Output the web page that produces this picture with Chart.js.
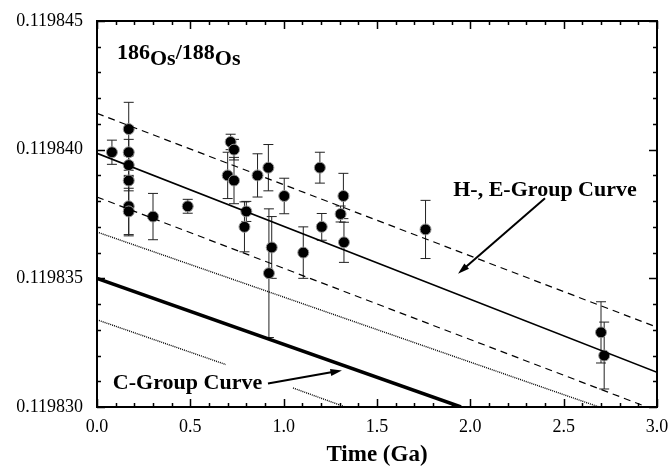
<!DOCTYPE html>
<html><head><meta charset="utf-8">
<script src="https://cdn.jsdelivr.net/npm/chart.js@4/dist/chart.umd.min.js"></script>
<style>html,body{margin:0;padding:0;background:#fff}#w{width:672px;height:469px}</style>
</head><body><div id="w"><canvas id="c"></canvas></div>
<script>
// Sample data: age (Ga), 186Os/188Os, 2-sigma error
const ages   = [0.08, 0.17, 0.17, 0.17, 0.17, 0.17, 0.17, 0.30, 0.486, 0.70, 0.716, 0.734, 0.734, 0.80, 0.79, 0.86, 0.918, 0.936, 0.921, 1.003, 1.105, 1.194, 1.204, 1.305, 1.32, 1.323, 1.76, 2.70, 2.717];
const ratios = [0.1198399, 0.1198408, 0.1198399, 0.1198394, 0.1198388, 0.1198378, 0.1198376, 0.1198374, 0.1198378, 0.1198390, 0.1198403, 0.1198400, 0.1198388, 0.1198376, 0.1198370, 0.1198390, 0.1198393, 0.1198362, 0.1198352, 0.1198382, 0.1198360, 0.1198393, 0.1198370, 0.1198375, 0.1198382, 0.1198364, 0.1198369, 0.1198329, 0.1198320];
const errors = [0.00000047, 0.00000104, 0.0000005, 0.0000004, 0.0000004, 0.00000115, 0.0000009, 0.0000009, 0.00000027, 0.0000009, 0.0000003, 0.0000004, 0.0000009, 0.00000039, 0.00000097, 0.00000084, 0.0000009, 0.0000012, 0.0000025, 0.00000069, 0.000001, 0.0000006, 0.00000052, 0.00000031, 0.00000088, 0.00000078, 0.00000113, 0.00000119, 0.0000013];

// Model curves (x in Ga, y ratio)
const heCurveX = [0, 3];           const heCurveY = [0.11983986, 0.11983135];
const heUpperX = [0, 3];           const heUpperY = [0.11984141, 0.11983310];
const heLowerX = [0, 3];           const heLowerY = [0.11983816, 0.11982985];
const cCurveX  = [0, 1.95];        const cCurveY  = [0.119835, 0.119830];
const cUpperX  = [0, 2.69];        const cUpperY  = [0.11983680, 0.119830];
const cLowerX  = [0, 0.69, null, 1.05, 1.33];
const cLowerY  = [0.11983339, 0.11983165, null, 0.11983074, 0.119830];

const xTicks = [0.0, 0.5, 1.0, 1.5, 2.0, 2.5, 3.0];
const yTicks = [0.119830, 0.119835, 0.119840, 0.119845];

const pts = (xs, ys) => xs.map((x, i) => x === null ? {x: null, y: null} : {x: x, y: ys[i]});
const FONT = '"Liberation Serif", "Times New Roman", serif';

const framePlugin = {
  id: 'frame',
  beforeDatasetDraw(chart, args) {
    if (args.index !== 6) return;
    const {ctx} = chart, xs = chart.scales.x, ys = chart.scales.y;
    ctx.save();
    ctx.strokeStyle = '#222'; ctx.lineWidth = 1;
    ages.forEach((a, i) => {
      const px = xs.getPixelForValue(a);
      const y1 = ys.getPixelForValue(ratios[i] + errors[i]);
      const y2 = ys.getPixelForValue(ratios[i] - errors[i]);
      ctx.beginPath();
      ctx.moveTo(px, y1); ctx.lineTo(px, y2);
      ctx.moveTo(px - 5, y1); ctx.lineTo(px + 5, y1);
      ctx.moveTo(px - 5, y2); ctx.lineTo(px + 5, y2);
      ctx.stroke();
    });
    ctx.restore();
  },
  afterDraw(chart) {
    const {ctx, chartArea: a} = chart, xs = chart.scales.x, ys = chart.scales.y;
    ctx.save();
    ctx.strokeStyle = '#000';
    ctx.lineWidth = 1.5;
    for (let k = 0; k <= 30; k++) {
      const v = k * 0.1, px = Math.round(xs.getPixelForValue(v)) + 0.5;
      const len = (k % 5 === 0) ? 8 : 4;
      ctx.beginPath();
      ctx.moveTo(px, a.bottom); ctx.lineTo(px, a.bottom - len);
      ctx.moveTo(px, a.top); ctx.lineTo(px, a.top + len);
      ctx.stroke();
    }
    for (let k = 0; k <= 15; k++) {
      const v = 0.119830 + k * 0.000001, py = Math.round(ys.getPixelForValue(v)) + 0.5;
      const len = (k % 5 === 0) ? 8 : 4;
      ctx.beginPath();
      ctx.moveTo(a.left, py); ctx.lineTo(a.left + len, py);
      ctx.moveTo(a.right, py); ctx.lineTo(a.right - len, py);
      ctx.stroke();
    }
    ctx.lineWidth = 2;
    ctx.strokeRect(a.left, a.top, a.right - a.left, a.bottom - a.top);

    // annotations
    ctx.fillStyle = '#000';
    ctx.textBaseline = 'alphabetic';
    const big = 'bold 22px ' + FONT, sub = 'bold 22px ' + FONT;
    let x0 = a.left + 20, yb = a.top + 38;
    ctx.font = big; ctx.fillText('186', x0, yb); x0 += ctx.measureText('186').width;
    ctx.font = sub; ctx.fillText('Os', x0, yb + 6); x0 += ctx.measureText('Os').width;
    ctx.font = big; ctx.fillText('/188', x0, yb); x0 += ctx.measureText('/188').width;
    ctx.font = sub; ctx.fillText('Os', x0, yb + 6);

    ctx.font = 'bold 22px ' + FONT;
    ctx.textAlign = 'center';
    ctx.fillText('H-, E-Group Curve', xs.getPixelForValue(2.40), ys.getPixelForValue(0.1198382));
    ctx.textAlign = 'left';
    ctx.fillText('C-Group Curve', xs.getPixelForValue(0.085), ys.getPixelForValue(0.1198307));

    const arrow = (xa, ya, xb, yb2) => {
      const p1x = xs.getPixelForValue(xa), p1y = ys.getPixelForValue(ya);
      const p2x = xs.getPixelForValue(xb), p2y = ys.getPixelForValue(yb2);
      const ang = Math.atan2(p2y - p1y, p2x - p1x);
      ctx.lineWidth = 2;
      ctx.beginPath(); ctx.moveTo(p1x, p1y);
      ctx.lineTo(p2x - 8 * Math.cos(ang), p2y - 8 * Math.sin(ang)); ctx.stroke();
      ctx.beginPath();
      ctx.moveTo(p2x, p2y);
      ctx.lineTo(p2x - 12 * Math.cos(ang - 0.3), p2y - 12 * Math.sin(ang - 0.3));
      ctx.lineTo(p2x - 12 * Math.cos(ang + 0.3), p2y - 12 * Math.sin(ang + 0.3));
      ctx.closePath(); ctx.fill();
    };
    arrow(2.40, 0.11983811, 1.934, 0.11983518);
    arrow(0.916, 0.11983091, 1.312, 0.11983142);
    ctx.restore();
  }
};

const lineDs = (data, width, dash) => ({
  type: 'line', data: data, borderColor: '#000', borderWidth: width, borderDash: dash,
  pointRadius: 0, fill: false, spanGaps: false, tension: 0
});

new Chart(document.getElementById('c'), {
  type: 'scatter',
  data: {
    datasets: [
      lineDs(pts(heCurveX, heCurveY), 1.6, []),
      lineDs(pts(heUpperX, heUpperY), 1.2, [7, 5]),
      lineDs(pts(heLowerX, heLowerY), 1.2, [7, 5]),
      lineDs(pts(cCurveX, cCurveY), 3.5, []),
      lineDs(pts(cUpperX, cUpperY), 1.4, [1, 1]),
      lineDs(pts(cLowerX, cLowerY), 1.4, [1, 1]),
      {
        type: 'scatter',
        data: pts(ages, ratios),
        backgroundColor: '#000', borderColor: '#9a9a9a', borderWidth: 1,
        pointRadius: 5.5, pointHoverRadius: 5.5
      }
    ]
  },
  options: {
    responsive: true, maintainAspectRatio: false, animation: false,
    layout: {padding: {top: 21, right: 15, left: 0, bottom: 0}},
    plugins: {legend: {display: false}, tooltip: {enabled: false}},
    scales: {
      x: {
        type: 'linear', min: 0, max: 3,
        afterFit: s => { s.height = 62; s.paddingLeft = 0; s.paddingRight = 0; },
        afterBuildTicks: s => { s.ticks = xTicks.map(v => ({value: v})); },
        grid: {display: false, drawTicks: false}, border: {display: false},
        ticks: {padding: 9, color: '#000', font: {family: FONT, size: 18}, callback: v => Number(v).toFixed(1)},
        title: {display: true, text: 'Time (Ga)', color: '#000', font: {family: FONT, size: 23, weight: 'bold'}, padding: {top: 6, bottom: 0}}
      },
      y: {
        type: 'linear', min: 0.119830, max: 0.119845,
        afterFit: s => { s.width = 97; s.paddingTop = 0; s.paddingBottom = 0; },
        afterBuildTicks: s => { s.ticks = yTicks.map(v => ({value: v})); },
        grid: {display: false, drawTicks: false}, border: {display: false},
        ticks: {padding: 14, color: '#000', font: {family: FONT, size: 18}, callback: v => Number(v).toFixed(6)}
      }
    }
  },
  plugins: [framePlugin]
});
</script></body></html>
